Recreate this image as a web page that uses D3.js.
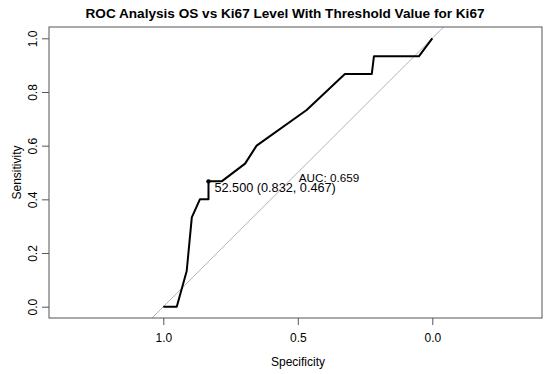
<!DOCTYPE html>
<html>
<head>
<meta charset="utf-8">
<script src="https://cdn.jsdelivr.net/npm/d3@7"></script>
<style>
  body { margin: 0; background: #fff; }
  svg { font-family: "Liberation Sans", Arial, sans-serif; }
</style>
</head>
<body>
<svg id="roc" width="550" height="374"></svg>
<script>
// ROC curve points (specificity, sensitivity)
var specificity = [1.0, 0.95, 0.913, 0.894, 0.864, 0.832, 0.832, 0.783, 0.696, 0.653, 0.467, 0.325, 0.225, 0.217, 0.05, 0.0];
var sensitivity = [0.0, 0.0, 0.133, 0.333, 0.4, 0.4, 0.467, 0.467, 0.533, 0.6, 0.733, 0.867, 0.867, 0.933, 0.933, 1.0];
var xTicks = [1.0, 0.5, 0.0];
var yTicks = [0.0, 0.2, 0.4, 0.6, 0.8, 1.0];
var threshold = {value: "52.500", spec: 0.832, sens: 0.467};
var auc = 0.659;

var box = {left: 49, right: 542, top: 27, bottom: 318};

// reversed specificity axis, like pROC
var xScale = d3.scaleLinear().domain([1, 0]).range([163.3, 432.3]);
var yScale = d3.scaleLinear().domain([0, 1]).range([306.7, 38.3]);

var svg = d3.select("#roc");

svg.append("defs").append("clipPath").attr("id", "plotclip")
  .append("rect")
  .attr("x", box.left).attr("y", box.top)
  .attr("width", box.right - box.left).attr("height", box.bottom - box.top);

// title
svg.append("text")
  .attr("x", 285).attr("y", 18)
  .attr("text-anchor", "middle")
  .attr("font-weight", "bold")
  .attr("font-size", 13.6)
  .text("ROC Analysis OS vs Ki67 Level With Threshold Value for Ki67");

// diagonal reference line (sens = 1 - spec), clipped to the box
var diag = [-0.5, 1.5];
svg.append("line")
  .attr("clip-path", "url(#plotclip)")
  .attr("x1", xScale(diag[0])).attr("y1", yScale(1 - diag[0]))
  .attr("x2", xScale(diag[1])).attr("y2", yScale(1 - diag[1]))
  .attr("stroke", "#b4b4b4").attr("stroke-width", 1);

// ROC curve
var pts = specificity.map(function(s, i) { return [s, sensitivity[i]]; });
svg.append("path")
  .datum(pts)
  .attr("fill", "none")
  .attr("stroke", "#000")
  .attr("stroke-width", 2)
  .attr("stroke-linejoin", "round")
  .attr("d", d3.line()
    .x(function(d) { return xScale(d[0]); })
    .y(function(d) { return yScale(d[1]); }));

// threshold point
svg.append("circle")
  .attr("cx", xScale(threshold.spec)).attr("cy", yScale(threshold.sens))
  .attr("r", 2.2).attr("fill", "#000");

svg.append("text")
  .attr("x", xScale(threshold.spec) + 6).attr("y", yScale(threshold.sens) + 11)
  .attr("font-size", 12.7)
  .text(threshold.value + " (" + threshold.spec.toFixed(3) + ", " + threshold.sens.toFixed(3) + ")");

svg.append("text")
  .attr("x", xScale(0.5) + 1).attr("y", yScale(0.5) + 9)
  .attr("font-size", 11.7)
  .text("AUC: " + auc.toFixed(3));

// box
svg.append("rect")
  .attr("x", box.left).attr("y", box.top)
  .attr("width", box.right - box.left).attr("height", box.bottom - box.top)
  .attr("fill", "none").attr("stroke", "#555").attr("stroke-width", 1);

// x axis
var xAxis = d3.axisBottom(xScale).tickValues(xTicks).tickFormat(d3.format(".1f")).tickSize(7).tickPadding(8);
var gx = svg.append("g").attr("transform", "translate(0," + box.bottom + ")").call(xAxis);
gx.select(".domain").remove();
gx.selectAll("line").attr("stroke", "#555");
gx.selectAll("text").attr("font-size", 12).attr("font-family", "Liberation Sans, Arial, sans-serif").attr("fill", "#000");

// y axis, labels rotated like base R
var yAxis = d3.axisLeft(yScale).tickValues(yTicks).tickFormat(d3.format(".1f")).tickSize(7).tickPadding(0);
var gy = svg.append("g").attr("transform", "translate(" + box.left + ",0)").call(yAxis);
gy.select(".domain").remove();
gy.selectAll("line").attr("stroke", "#555");
gy.selectAll("text")
  .attr("font-size", 12).attr("font-family", "Liberation Sans, Arial, sans-serif").attr("fill", "#000")
  .attr("x", null).attr("dy", null)
  .attr("text-anchor", "middle")
  .attr("transform", "translate(-12,0) rotate(-90)");

// axis titles
svg.append("text")
  .attr("x", 298).attr("y", 366)
  .attr("text-anchor", "middle").attr("font-size", 12)
  .text("Specificity");

svg.append("text")
  .attr("transform", "translate(21," + ((box.top + box.bottom) / 2) + ") rotate(-90)")
  .attr("text-anchor", "middle").attr("font-size", 12)
  .text("Sensitivity");
</script>
</body>
</html>
